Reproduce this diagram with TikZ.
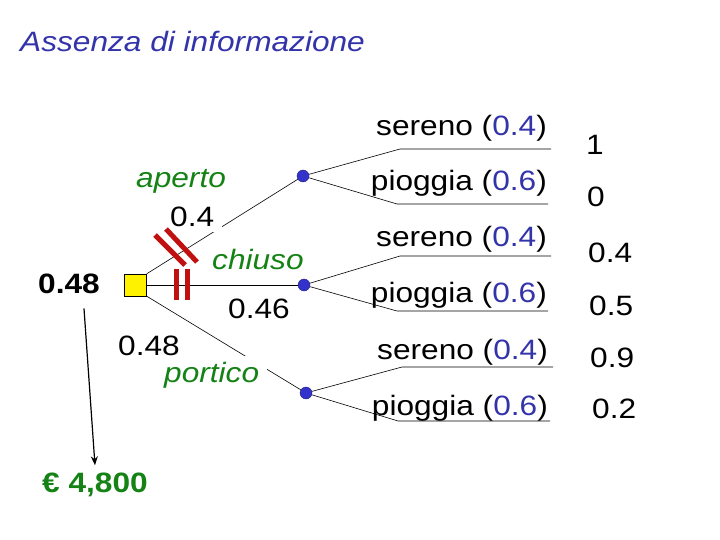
\documentclass[tikz,border=0pt]{standalone}
\usepackage{fontspec}
\setmainfont{Liberation Sans}[FakeStretch=1.13]
\usetikzlibrary{arrows.meta,positioning}

\definecolor{titleblue}{RGB}{51,51,170}
\definecolor{dotblue}{RGB}{51,51,204}
\definecolor{labelgreen}{RGB}{20,130,20}
\definecolor{barred}{RGB}{192,16,16}

\begin{document}
\begin{tikzpicture}[
        x=1pt, y=-1pt,
        every node/.style={inner sep=2pt, font=\fontsize{28}{34}\selectfont},
        choice/.style={text=labelgreen, font=\fontsize{28}{34}\selectfont\itshape},
        chance/.style={circle, draw=dotblue!60!black, fill=dotblue, minimum size=12pt, inner sep=0pt},
        decision/.style={draw, fill=yellow, minimum size=22pt, inner sep=0pt},
        cover/.style={fill=white, inner xsep=8pt, inner ysep=6pt},
        cut/.style={draw=barred, line width=5pt},
        branch/.style={draw, line width=0.6pt}
    ]
    \useasboundingbox (0,0) rectangle (720,540);

    \node[anchor=base west, text=titleblue, font=\fontsize{28}{34}\selectfont\itshape] (title) at (18,52) {Assenza di informazione};

    % tree
    \node[decision] (d0) at (135.5,285) {};
    \node[chance] (c1) at (303,176) {};
    \node[chance] (c2) at (304,285) {};
    \node[chance] (c3) at (306,393) {};

    \foreach \n/\x/\y/\ex in {s1/400/149/551, p1/397/204/548,
                              s2/400/256/551, p2/397/311/548,
                              s3/402/367/553, p3/398/421/550} {
        \coordinate (\n) at (\x,\y);
        \coordinate (\n e) at (\ex,\y);
    }

    \draw[branch] (d0.north east) -- (c1);
    \draw[branch] (d0.east) -- (c2);
    \draw[branch] (d0.south east) -- (c3);
    \draw[branch] (c1) -- (s1) -- (s1e);
    \draw[branch] (c1) -- (p1) -- (p1e);
    \draw[branch] (c2) -- (s2) -- (s2e);
    \draw[branch] (c2) -- (p2) -- (p2e);
    \draw[branch] (c3) -- (s3) -- (s3e);
    \draw[branch] (c3) -- (p3) -- (p3e);

    % labels on the choices
    \node[cover, anchor=base west] (pa) at (162,226) {0.4};
    \node[choice, anchor=base west] (aperto) at (134,188) {aperto};
    \node[choice, anchor=base west] (chiuso) at (210,269) {chiuso};
    \node[anchor=base west] (pc) at (226,318) {0.46};
    \node[choice, cover, anchor=base west] (portico) at (156,382) {portico};
    \node[anchor=base west] (pp) at (116,355) {0.48};

    % ruled out choices
    \draw[cut] (155,235) -- (185,265);
    \draw[cut] (166,229) -- (197,262);
    \draw[cut] (176,269) -- (176,300);
    \draw[cut] (187,269) -- (187,300);

    % weather outcomes
    \node[anchor=base east] (o1) at (549,136) {sereno (\textcolor{titleblue}{0.4})};
    \node[anchor=base east] (o2) at (549,191) {pioggia (\textcolor{titleblue}{0.6})};
    \node[anchor=base east] (o3) at (549,247) {sereno (\textcolor{titleblue}{0.4})};
    \node[anchor=base east] (o4) at (549,302) {pioggia (\textcolor{titleblue}{0.6})};
    \node[anchor=base east] (o5) at (550,359) {sereno (\textcolor{titleblue}{0.4})};
    \node[anchor=base east] (o6) at (550,415) {pioggia (\textcolor{titleblue}{0.6})};

    \node[anchor=base west] (u1) at (584,155) {1};
    \node[anchor=base west] (u2) at (585,207) {0};
    \node[anchor=base west] (u3) at (586,262) {0.4};
    \node[anchor=base west] (u4) at (587,315) {0.5};
    \node[anchor=base west] (u5) at (588,367) {0.9};
    \node[anchor=base west] (u6) at (590,418) {0.2};

    % value
    \node[anchor=base west, font=\fontsize{28}{34}\selectfont\bfseries] (lead) at (36,293) {0.48};
    \node[anchor=base west, text=labelgreen, font=\fontsize{28}{34}\selectfont\bfseries] (euro) at (40,492) {€ 4,800};
    \draw[-{Stealth[length=9pt,width=7pt]}, line width=1.2pt]
        ([xshift=15pt,yshift=-13pt]lead.south) -- ([yshift=5pt]euro.north);
\end{tikzpicture}
\end{document}
